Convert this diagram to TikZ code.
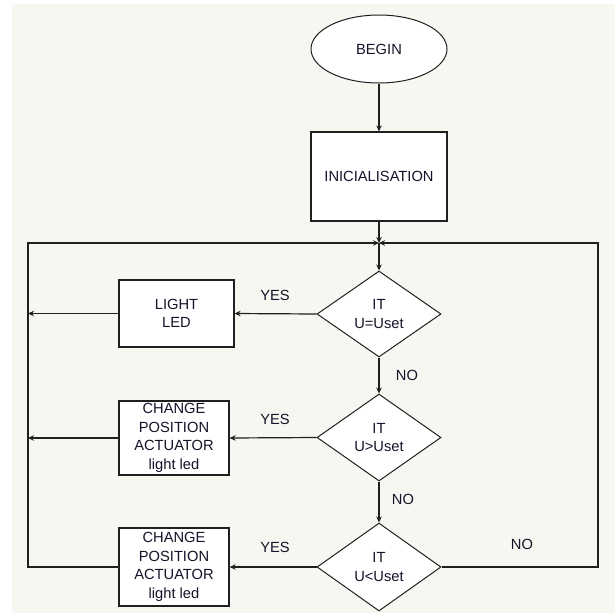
\documentclass[tikz,border=0pt]{standalone}
\usepackage{fontspec}
\setmainfont{Liberation Sans}
\usetikzlibrary{shapes.geometric,arrows.meta}
\definecolor{bgc}{HTML}{F8F6F0}
\definecolor{txt}{HTML}{14142A}
\definecolor{ln}{HTML}{202020}
\tikzset{
  every node/.style={font=\fontsize{14.7}{18.5}\selectfont, text=txt, align=center, inner sep=0pt},
  boxnode/.style={draw=ln, line width=1.2pt, fill=white, rectangle},
  decnode/.style={draw=ln, line width=1pt, fill=white, diamond, aspect=1.44},
  termnode/.style={draw=ln, line width=1pt, fill=white, ellipse},
  arr/.style={draw=ln, line width=1.2pt, -{Stealth[length=6pt,width=5.5pt]}},
  plain/.style={draw=ln, line width=1.2pt},
  lbl/.style={font=\fontsize{14.7}{18.5}\selectfont}
}
\begin{document}
\begin{tikzpicture}[x=1pt,y=-1pt]
\useasboundingbox (0,0) rectangle (615,614);
\fill[bgc] (12,4) rectangle (615,613);

\node[termnode, minimum width=136, minimum height=68] (begin) at (379,49) {BEGIN};
\node[boxnode, minimum width=136, minimum height=89] (init) at (379,176.5) {INICIALISATION};
\coordinate (j) at (379,243);
\coordinate (L0) at (28,243);
\coordinate (R0) at (598,243);

\node[decnode, minimum width=124, minimum height=86] (d1) at (379,314) {IT\\U=Uset};
\node[decnode, minimum width=124, minimum height=87] (d2) at (379,437.5) {IT\\U>Uset};
\node[decnode, minimum width=124, minimum height=88] (d3) at (379,567) {IT\\U<Uset};

\node[boxnode, minimum width=115, minimum height=67] (b1) at (176.5,313.5) {LIGHT\\LED};
\node[boxnode, minimum width=110, minimum height=74] (b2) at (174,438) {CHANGE\\POSITION\\ACTUATOR\\light led};
\node[boxnode, minimum width=110, minimum height=78] (b3) at (174,567) {CHANGE\\POSITION\\ACTUATOR\\light led};

\coordinate (l1) at (28,313.5);
\coordinate (l2) at (28,438);
\coordinate (l3) at (28,567);
\coordinate (r3) at (598,567);

\node[lbl] (yes1) at (275,295) {YES};
\node[lbl] (yes2) at (275,419) {YES};
\node[lbl] (yes3) at (275,547) {YES};
\node[lbl] (no1) at (407,375) {NO};
\node[lbl] (no2) at (403,499) {NO};
\node[lbl] (no3) at (522,544) {NO};

\draw[arr] (begin) -- (init);
\draw[arr] (init) -- (j);
\draw[arr] (j) -- (d1);
\draw[arr] (d1) -- (d2);
\draw[arr] (d2) -- (d3);
\draw[arr] (d1.west) -- (b1.east);
\draw[arr] (d2.west) -- (b2.east);
\draw[arr] (d3.west) -- (b3.east);
\draw[arr] (b1.west) -- (l1);
\draw[arr] (b2.west) -- (l2);
\draw[arr] (b3.west) -- (l3) -- (L0) -- (j);
\draw[arr] (d3.east) -- (r3) -- (R0) -- (j);
\end{tikzpicture}
\end{document}
